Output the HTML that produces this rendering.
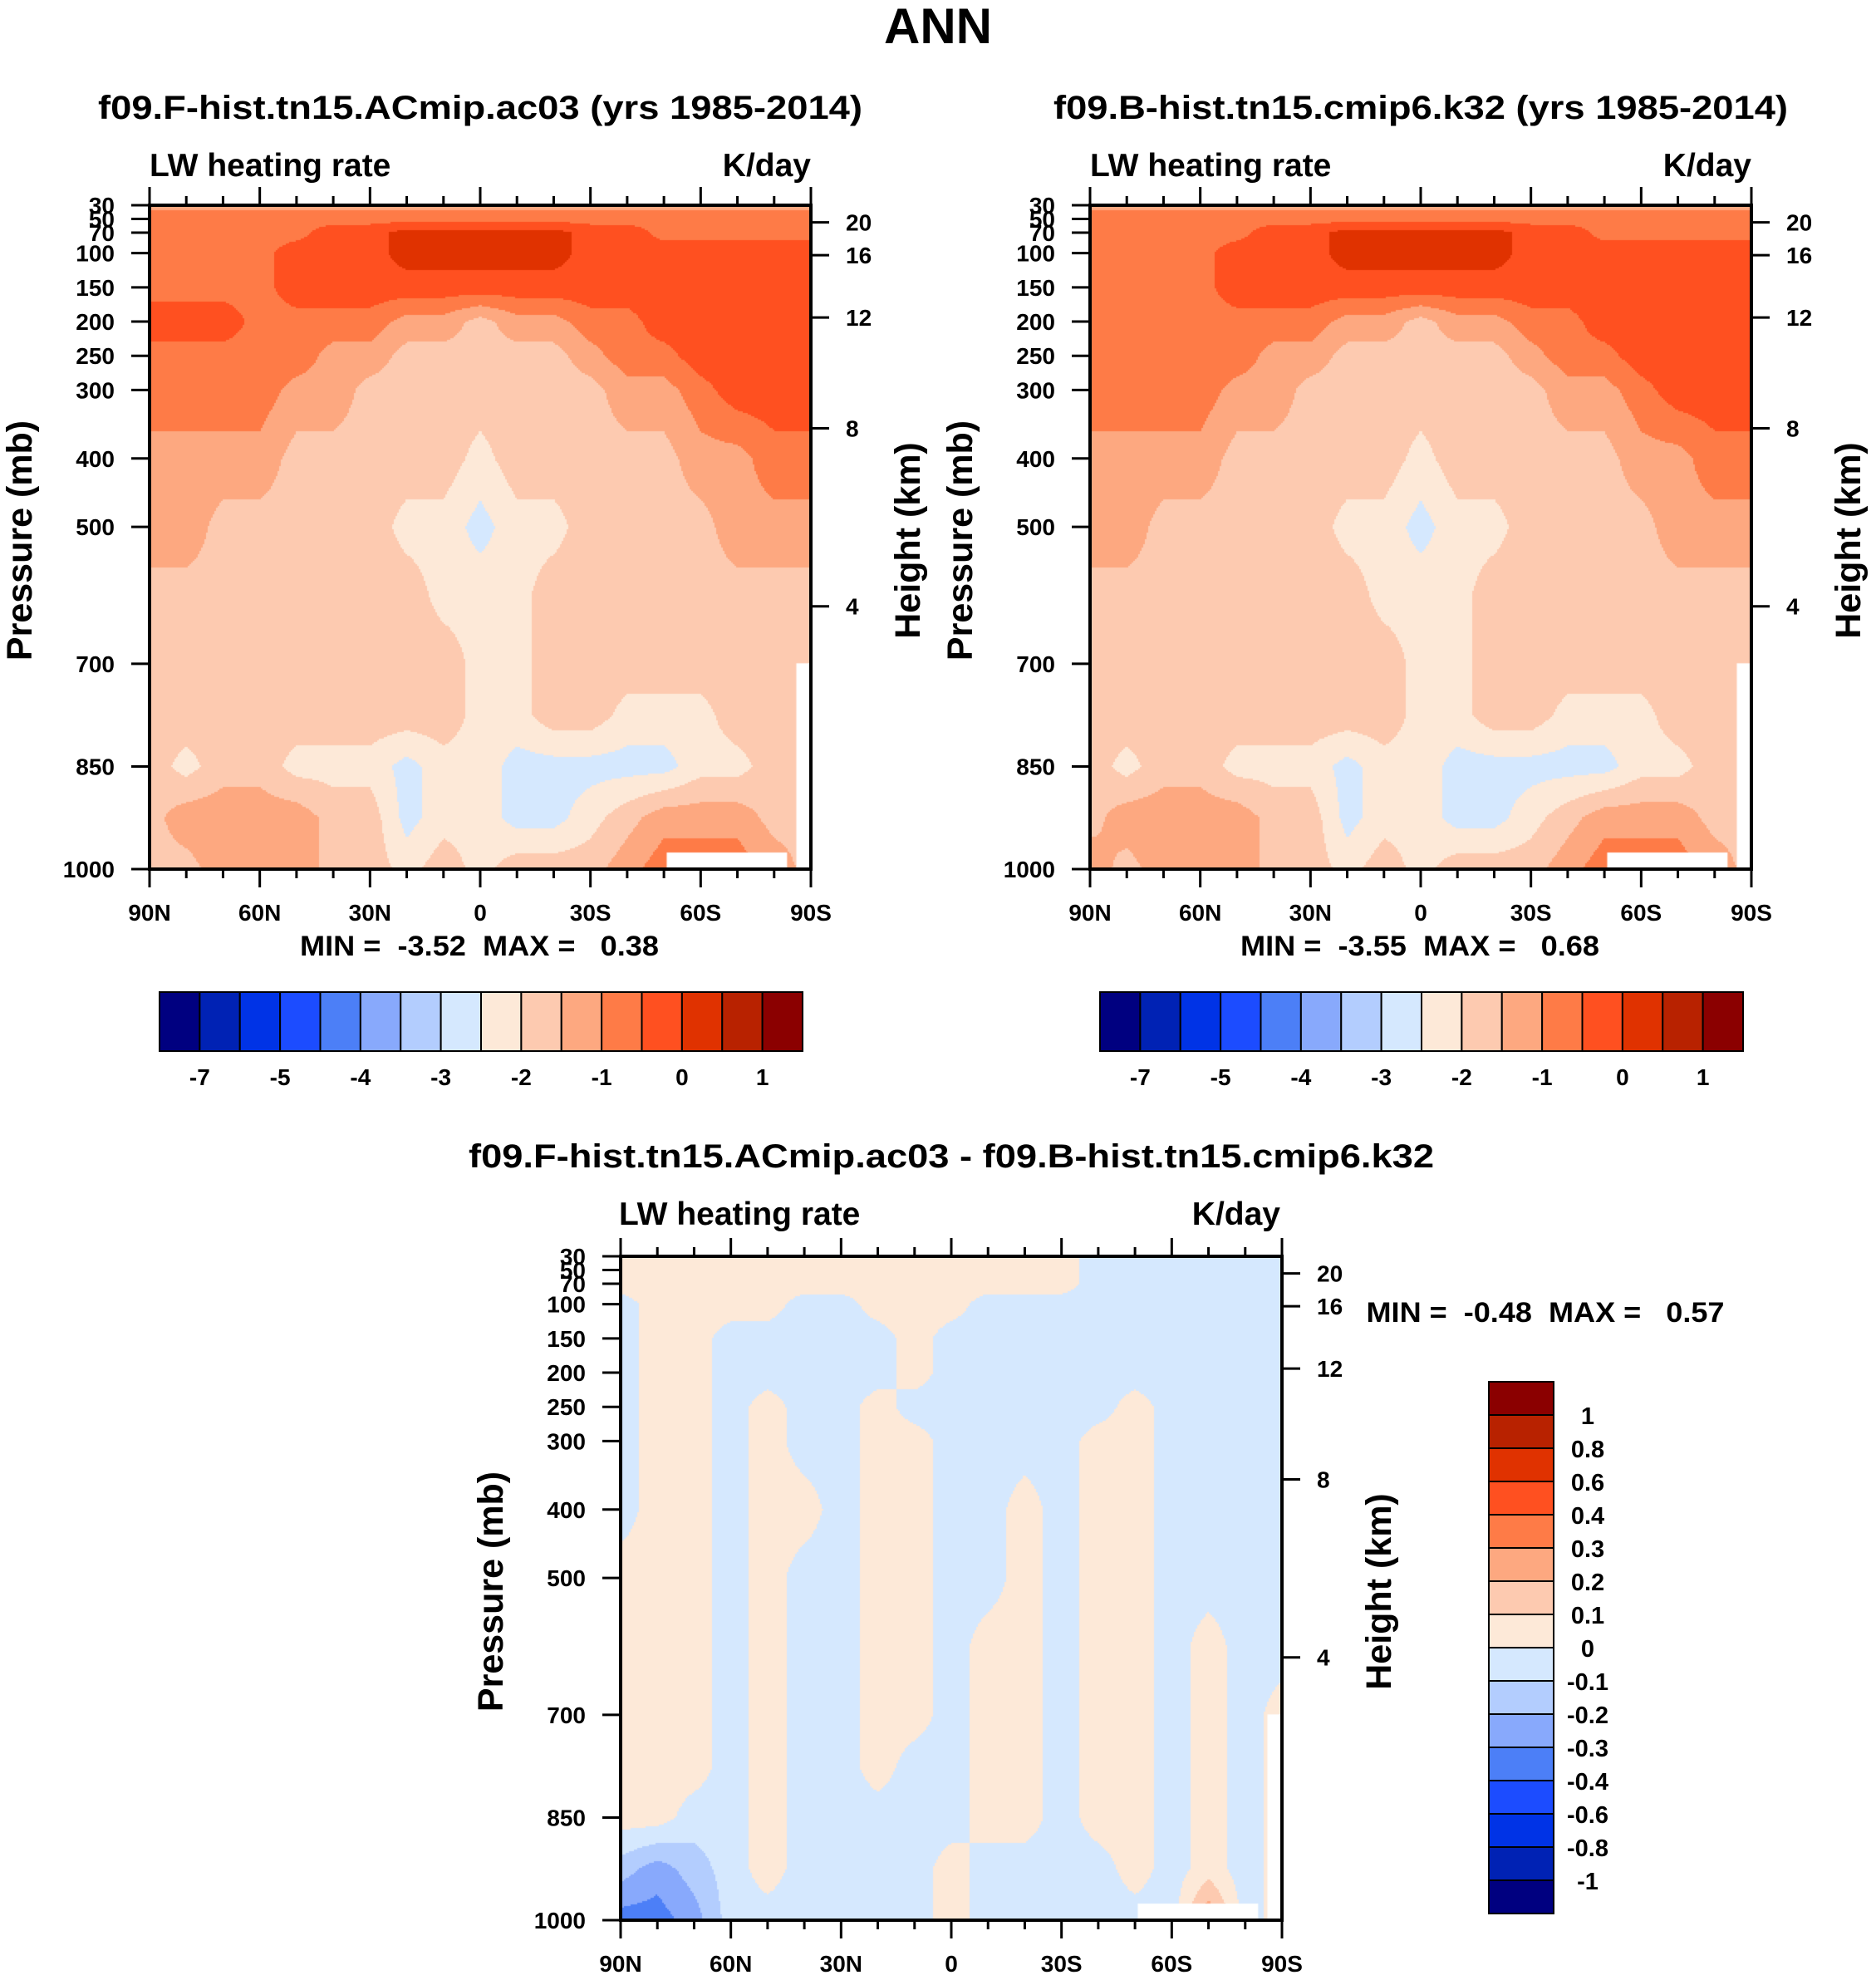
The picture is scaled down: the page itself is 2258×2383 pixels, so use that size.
<!DOCTYPE html>
<html><head><meta charset="utf-8">
<style>
html,body{margin:0;padding:0;background:#fff;}
#root{position:relative;width:2258px;height:2383px;overflow:hidden;background:#fff;font-family:"Liberation Sans",sans-serif;}
canvas{position:absolute;}
svg{position:absolute;left:0;top:0;}
svg text{font-family:"Liberation Sans",sans-serif;font-weight:bold;fill:#000;}
</style></head>
<body>
<div id="root">
<canvas id="cA"></canvas>
<canvas id="cB"></canvas>
<canvas id="cD"></canvas>
<svg id="ov" width="2258" height="2383">
<text x="1129" y="52" font-size="60" text-anchor="middle">ANN</text>
<text x="578" y="143" font-size="40" text-anchor="middle" textLength="920" lengthAdjust="spacingAndGlyphs">f09.F-hist.tn15.ACmip.ac03 (yrs 1985-2014)</text>
<text x="180" y="212" font-size="39">LW heating rate</text>
<text x="976" y="212" font-size="39" text-anchor="end">K/day</text>
<text x="1710" y="143" font-size="40" text-anchor="middle" textLength="884" lengthAdjust="spacingAndGlyphs">f09.B-hist.tn15.cmip6.k32 (yrs 1985-2014)</text>
<text x="1312" y="212" font-size="39">LW heating rate</text>
<text x="2108" y="212" font-size="39" text-anchor="end">K/day</text>
<text x="1145" y="1405" font-size="40" text-anchor="middle" textLength="1162" lengthAdjust="spacingAndGlyphs">f09.F-hist.tn15.ACmip.ac03 - f09.B-hist.tn15.cmip6.k32</text>
<text x="745" y="1474" font-size="39">LW heating rate</text>
<text x="1541" y="1474" font-size="39" text-anchor="end">K/day</text>
<text x="577" y="1150" font-size="34" text-anchor="middle" textLength="432" lengthAdjust="spacingAndGlyphs" xml:space="preserve">MIN =  -3.52  MAX =   0.38</text>
<text x="1709" y="1150" font-size="34" text-anchor="middle" textLength="432" lengthAdjust="spacingAndGlyphs" xml:space="preserve">MIN =  -3.55  MAX =   0.68</text>
<text x="1860" y="1591" font-size="34" text-anchor="middle" textLength="431" lengthAdjust="spacingAndGlyphs" xml:space="preserve">MIN =  -0.48  MAX =   0.57</text>
</svg>
</div>
<script>
// ---- data ----
const lats = [90,80,70,60,50,40,30,20,10,0,-10,-20,-30,-40,-50,-60,-70,-80,-90];
const pLevels = [30,50,70,100,150,200,250,300,400,500,600,700,775,850,925,1000];
const pTickLabels = [30,50,70,100,150,200,250,300,400,500,700,850,1000];
const heightTickLabels = [20,16,12,8,4];
const heightTickPressures = [55,103,194,356,616];
const latTickLabels = ['90N','60N','30N','0','30S','60S','90S'];
const levelsTop = [-7,-6,-5,-4.5,-4,-3.5,-3,-2.5,-2,-1.5,-1,-0.5,0,0.5,1];
const levelsTopLabels = ['-7','-5','-4','-3','-2','-1','0','1'];
const levelsDiff = [-1,-0.8,-0.6,-0.4,-0.3,-0.2,-0.1,0,0.1,0.2,0.3,0.4,0.6,0.8,1];
const levelsDiffLabels = ['-1','-0.8','-0.6','-0.4','-0.3','-0.2','-0.1','0','0.1','0.2','0.3','0.4','0.6','0.8','1'];
const palette = ['#000080','#0022b4','#0033e6','#1c4cff','#4c7ff7','#88a9fc','#b3cdfe','#d5e8fe','#fde9d8','#fdcab0','#fda880','#fe7b47','#ff5020','#e03200','#b82200','#8b0000'];

const fieldA = [
[-1.2,-1.2,-1.2,-1.2,-1.2,-1.2,-1.2,-1.2,-1.2,-1.2,-1.2,-1.2,-1.2,-1.2,-1.2,-1.2,-1.2,-1.2,-1.2],
[-0.7,-0.7,-0.7,-0.7,-0.7,-0.7,-0.7,-0.7,-0.7,-0.7,-0.7,-0.7,-0.7,-0.7,-0.7,-0.7,-0.7,-0.7,-0.7],
[-0.7,-0.7,-0.7,-0.7,-0.7,-0.2,-0.2,0.2,0.2,0.2,0.2,0.2,-0.2,-0.2,-0.7,-0.7,-0.7,-0.7,-0.7],
[-0.7,-0.7,-0.7,-0.7,-0.2,-0.2,-0.2,0.2,0.2,0.2,0.2,0.2,-0.2,-0.2,-0.2,-0.2,-0.2,-0.2,-0.2],
[-0.7,-0.7,-0.7,-0.7,-0.2,-0.2,-0.2,-0.2,-0.2,-0.2,-0.2,-0.2,-0.2,-0.2,-0.2,-0.2,-0.2,-0.2,-0.2],
[-0.2,-0.2,-0.2,-0.7,-0.7,-0.7,-0.7,-1.2,-1.2,-1.7,-1.2,-1.2,-0.7,-0.7,-0.2,-0.2,-0.2,-0.2,-0.2],
[-0.7,-0.7,-0.7,-0.7,-0.7,-1.2,-1.2,-1.7,-1.7,-1.7,-1.7,-1.7,-1.2,-0.7,-0.7,-0.2,-0.2,-0.2,-0.2],
[-0.7,-0.7,-0.7,-0.7,-1.2,-1.2,-1.7,-1.7,-1.7,-1.7,-1.7,-1.7,-1.7,-1.2,-1.2,-0.7,-0.2,-0.2,-0.2],
[-1.2,-1.2,-1.2,-1.2,-1.7,-1.7,-1.7,-1.7,-1.7,-2.2,-1.7,-1.7,-1.7,-1.7,-1.7,-1.2,-1.2,-0.7,-0.7],
[-1.2,-1.2,-1.7,-1.7,-1.7,-1.7,-1.7,-2.2,-2.2,-2.7,-2.2,-2.2,-1.7,-1.7,-1.7,-1.7,-1.2,-1.2,-1.2],
[-1.7,-1.7,-1.7,-1.7,-1.7,-1.7,-1.7,-1.7,-2.2,-2.2,-2.2,-1.7,-1.7,-1.7,-1.7,-1.7,-1.7,-1.7,-1.7],
[-1.7,-1.7,-1.7,-1.7,-1.7,-1.7,-1.7,-1.7,-1.7,-2.2,-2.2,-1.7,-1.7,-1.7,-1.7,-1.7,-1.7,-1.7,-1.7],
[-1.7,-1.7,-1.7,-1.7,-1.7,-1.7,-1.7,-1.7,-1.7,-2.2,-2.2,-1.7,-1.7,-2.2,-2.2,-2.2,-1.7,-1.7,-1.7],
[-1.7,-2.2,-1.7,-1.7,-2.2,-2.2,-2.2,-2.7,-2.2,-2.2,-2.7,-2.7,-2.7,-2.7,-2.7,-2.2,-2.2,-1.7,-1.7],
[-1.7,-1.2,-1.2,-1.2,-1.2,-1.7,-1.7,-2.7,-2.2,-2.2,-2.7,-2.7,-2.2,-1.7,-1.2,-1.2,-1.2,-1.7,-1.7],
[-1.7,-1.7,-1.2,-1.2,-1.2,-1.7,-1.7,-2.2,-1.7,-2.2,-1.7,-1.7,-1.7,-1.2,-0.7,-0.7,-0.7,-1.2,-1.7]
];
const fieldB = [
[-1.2,-1.2,-1.2,-1.2,-1.2,-1.2,-1.2,-1.2,-1.2,-1.2,-1.2,-1.2,-1.2,-1.2,-1.2,-1.2,-1.2,-1.2,-1.2],
[-0.7,-0.7,-0.7,-0.7,-0.7,-0.7,-0.7,-0.7,-0.7,-0.7,-0.7,-0.7,-0.7,-0.7,-0.7,-0.7,-0.7,-0.7,-0.7],
[-0.7,-0.7,-0.7,-0.7,-0.7,-0.2,-0.2,0.2,0.2,0.2,0.2,0.2,-0.2,-0.2,-0.7,-0.7,-0.7,-0.7,-0.7],
[-0.7,-0.7,-0.7,-0.7,-0.2,-0.2,-0.2,0.2,0.2,0.2,0.2,0.2,-0.2,-0.2,-0.2,-0.2,-0.2,-0.2,-0.2],
[-0.7,-0.7,-0.7,-0.7,-0.2,-0.2,-0.2,-0.2,-0.2,-0.2,-0.2,-0.2,-0.2,-0.2,-0.2,-0.2,-0.2,-0.2,-0.2],
[-0.7,-0.7,-0.7,-0.7,-0.7,-0.7,-0.7,-1.2,-1.2,-1.7,-1.2,-1.2,-0.7,-0.7,-0.2,-0.2,-0.2,-0.2,-0.2],
[-0.7,-0.7,-0.7,-0.7,-0.7,-1.2,-1.2,-1.7,-1.7,-1.7,-1.7,-1.7,-1.2,-0.7,-0.7,-0.2,-0.2,-0.2,-0.2],
[-0.7,-0.7,-0.7,-0.7,-1.2,-1.2,-1.7,-1.7,-1.7,-1.7,-1.7,-1.7,-1.7,-1.2,-1.2,-0.7,-0.2,-0.2,-0.2],
[-1.2,-1.2,-1.2,-1.2,-1.7,-1.7,-1.7,-1.7,-1.7,-2.2,-1.7,-1.7,-1.7,-1.7,-1.7,-1.2,-1.2,-0.7,-0.7],
[-1.2,-1.2,-1.7,-1.7,-1.7,-1.7,-1.7,-2.2,-2.2,-2.7,-2.2,-2.2,-1.7,-1.7,-1.7,-1.7,-1.2,-1.2,-1.2],
[-1.7,-1.7,-1.7,-1.7,-1.7,-1.7,-1.7,-1.7,-2.2,-2.2,-2.2,-1.7,-1.7,-1.7,-1.7,-1.7,-1.7,-1.7,-1.7],
[-1.7,-1.7,-1.7,-1.7,-1.7,-1.7,-1.7,-1.7,-1.7,-2.2,-2.2,-1.7,-1.7,-1.7,-1.7,-1.7,-1.7,-1.7,-1.7],
[-1.7,-1.7,-1.7,-1.7,-1.7,-1.7,-1.7,-1.7,-1.7,-2.2,-2.2,-1.7,-1.7,-2.2,-2.2,-2.2,-1.7,-1.7,-1.7],
[-1.7,-2.2,-1.7,-1.7,-2.2,-2.2,-2.2,-2.7,-2.2,-2.2,-2.7,-2.7,-2.7,-2.7,-2.7,-2.2,-2.2,-1.7,-1.7],
[-1.7,-1.2,-1.2,-1.2,-1.2,-1.7,-1.7,-2.7,-2.2,-2.2,-2.7,-2.7,-2.2,-1.7,-1.2,-1.2,-1.2,-1.7,-1.7],
[-1.2,-1.7,-1.2,-1.2,-1.2,-1.7,-1.7,-2.2,-1.7,-2.2,-1.7,-1.7,-1.7,-1.2,-0.7,-0.7,-0.7,-1.2,-1.7]
];
const fieldDiff = [
[0.05,0.05,0.05,0.05,0.05,0.05,0.05,0.05,0.05,0.05,0.05,0.05,0.05,-0.05,-0.05,-0.05,-0.05,-0.05,-0.05],
[0.05,0.05,0.05,0.05,0.05,0.05,0.05,0.05,0.05,0.05,0.05,0.05,0.05,-0.05,-0.05,-0.05,-0.05,-0.05,-0.05],
[0.05,0.05,0.05,0.05,0.05,0.05,0.05,0.05,0.05,0.05,0.05,0.05,0.05,-0.05,-0.05,-0.05,-0.05,-0.05,-0.05],
[-0.05,0.05,0.05,0.05,0.05,-0.05,-0.05,0.05,0.05,0.05,-0.05,-0.05,-0.05,-0.05,-0.05,-0.05,-0.05,-0.05,-0.05],
[-0.05,0.05,0.05,-0.05,-0.05,-0.05,-0.05,-0.05,0.05,-0.05,-0.05,-0.05,-0.05,-0.05,-0.05,-0.05,-0.05,-0.05,-0.05],
[-0.05,0.05,0.05,-0.05,-0.05,-0.05,-0.05,-0.05,0.05,-0.05,-0.05,-0.05,-0.05,-0.05,-0.05,-0.05,-0.05,-0.05,-0.05],
[-0.05,0.05,0.05,-0.05,0.05,-0.05,-0.05,0.05,-0.05,-0.05,-0.05,-0.05,-0.05,-0.05,0.05,-0.05,-0.05,-0.05,-0.05],
[-0.05,0.05,0.05,-0.05,0.05,-0.05,-0.05,0.05,0.05,-0.05,-0.05,-0.05,-0.05,0.05,0.05,-0.05,-0.05,-0.05,-0.05],
[-0.05,0.05,0.05,-0.05,0.05,0.05,-0.05,0.05,0.05,-0.05,-0.05,0.05,-0.05,0.05,0.05,-0.05,-0.05,-0.05,-0.05],
[0.05,0.05,0.05,-0.05,0.05,-0.05,-0.05,0.05,0.05,-0.05,-0.05,0.05,-0.05,0.05,0.05,-0.05,-0.05,-0.05,-0.05],
[0.05,0.05,0.05,-0.05,0.05,-0.05,-0.05,0.05,0.05,-0.05,0.05,0.05,-0.05,0.05,0.05,-0.05,0.05,-0.05,-0.05],
[0.05,0.05,0.05,-0.05,0.05,-0.05,-0.05,0.05,0.05,-0.05,0.05,0.05,-0.05,0.05,0.05,-0.05,0.05,-0.05,0.05],
[0.05,0.05,0.05,-0.05,0.05,-0.05,-0.05,0.05,-0.05,-0.05,0.05,0.05,-0.05,0.05,0.05,-0.05,0.05,-0.05,0.05],
[0.05,0.05,-0.05,-0.05,0.05,-0.05,-0.05,-0.05,-0.05,-0.05,0.05,0.05,-0.05,0.05,0.05,-0.05,0.05,-0.05,0.05],
[-0.15,-0.25,-0.15,-0.05,0.05,-0.05,-0.05,-0.05,-0.05,0.05,-0.05,-0.05,-0.05,-0.05,0.05,-0.05,0.05,-0.05,0.05],
[-0.35,-0.35,-0.25,-0.05,-0.05,-0.05,-0.05,-0.05,-0.05,0.05,-0.05,-0.05,-0.05,-0.05,-0.05,-0.05,0.3,-0.05,0.05]
];

// ---- layout ----
const panels = [
  {id:'cA', name:'panel1', x:180, y:247, w:796, h:799, field:fieldA, levels:levelsTop},
  {id:'cB', name:'panel2', x:1312, y:247, w:796, h:799, field:fieldB, levels:levelsTop},
  {id:'cD', name:'panel3', x:747, y:1512, w:796, h:799, field:fieldDiff, levels:levelsDiff}
];
const NS = 'http://www.w3.org/2000/svg';
const ov = document.getElementById('ov');
function mk(tag, attrs, parent){
  const e = document.createElementNS(NS, tag);
  for (const k in attrs) e.setAttribute(k, attrs[k]);
  (parent||ov).appendChild(e);
  return e;
}
function classOf(v, levels){ let c=0; for (const l of levels) if (v>=l) c++; return c; }
function sample(field, lat, p){
  let i=0; while (i<pLevels.length-2 && p>pLevels[i+1]) i++;
  const t = Math.max(0,Math.min(1,(p-pLevels[i])/(pLevels[i+1]-pLevels[i])));
  const fx = (90-lat)/10; let j=Math.min(Math.floor(fx), lats.length-2); const s=fx-j;
  const a=field[i][j], b=field[i][j+1], c=field[i+1][j], d=field[i+1][j+1];
  return (a*(1-s)+b*s)*(1-t)+(c*(1-s)+d*s)*t;
}
function xScale(P, lat){ return P.x + (90-lat)/180*P.w; }
function yScale(P, p){ return P.y + (p-30)/970*P.h; }

panels.forEach(P=>{
  const cv = document.getElementById(P.id);
  cv.width=P.w; cv.height=P.h; cv.style.left=P.x+'px'; cv.style.top=P.y+'px';
  const ctx = cv.getContext('2d');
  const st=2;
  for (let py=0; py<P.h; py+=st){
    const p = 30 + (py+st/2)/P.h*970;
    for (let px=0; px<P.w; px+=st){
      const lat = 90 - (px+st/2)/P.w*180;
      const v = sample(P.field, lat, p);
      ctx.fillStyle = palette[classOf(v, P.levels)];
      ctx.fillRect(px,py,st,st);
    }
  }
  ctx.fillStyle='#fff';
  ctx.fillRect(P.w*0.782, P.h*0.975, P.w*0.182, P.h*0.03);
  ctx.fillRect(P.w*0.978, P.h*0.69, P.w*0.03, P.h*0.32);

  const g = mk('g',{});
  
  
  const fr = mk('rect',{x:P.x,y:P.y,width:P.w,height:P.h,fill:'none',stroke:'#000','stroke-width':4},g);
  
  
  pTickLabels.forEach(pv=>{
    const y = yScale(P,pv);
    const t = mk('line',{x1:P.x-22,x2:P.x,y1:y,y2:y,stroke:'#000','stroke-width':3},g);
    
    
    const tx = mk('text',{x:P.x-42,y:y+10,'font-size':28,'text-anchor':'end'},g);
    tx.textContent = pv;
    
    
  });
  heightTickLabels.forEach((hv,k)=>{
    const y = yScale(P, heightTickPressures[k]);
    const t = mk('line',{x1:P.x+P.w,x2:P.x+P.w+22,y1:y,y2:y,stroke:'#000','stroke-width':3},g);
    
    
    const tx = mk('text',{x:P.x+P.w+42,y:y+10,'font-size':28},g);
    tx.textContent = hv;
    
    
  });
  for (let lat=90; lat>=-90; lat-=10){
    const x = xScale(P,lat);
    const major = (lat%30===0);
    const L = major?22:11;
    const tb = mk('line',{x1:x,x2:x,y1:P.y+P.h,y2:P.y+P.h+L,stroke:'#000','stroke-width':3},g);
    
    
    const tt = mk('line',{x1:x,x2:x,y1:P.y-L,y2:P.y,stroke:'#000','stroke-width':3},g);
    
    
  }
  latTickLabels.forEach((lab,k)=>{
    const x = xScale(P, 90-30*k);
    const tx = mk('text',{x:x,y:P.y+P.h+62,'font-size':28,'text-anchor':'middle'},g);
    tx.textContent = lab;
    
    
  });
  const cy = P.y+P.h/2+4;
  const yt = mk('text',{x:0,y:0,'font-size':43,'text-anchor':'middle',transform:`translate(${P.x-142},${cy}) rotate(-90)`},g);
  yt.textContent='Pressure (mb)';
  
  
  const ht = mk('text',{x:0,y:0,'font-size':43,'text-anchor':'middle',transform:`translate(${P.x+P.w+131},${cy}) rotate(-90)`},g);
  ht.textContent='Height (km)';
  
  
});

[{x:192,name:'panel1'},{x:1324,name:'panel2'}].forEach(cb=>{
  const g = mk('g',{});
  
  
  const W=774, y0=1194, H=71, bw=W/palette.length;
  palette.forEach((c,k)=>{
    const r = mk('rect',{x:cb.x+k*bw,y:y0,width:bw,height:H,fill:c,stroke:'#000','stroke-width':2},g);
    
    
  });
  levelsTopLabels.forEach((lab,k)=>{
    const tx = mk('text',{x:cb.x+(1+2*k)*bw,y:1306,'font-size':28,'text-anchor':'middle'},g);
    tx.textContent = lab;
    
    
  });
});
(function(){
  const g = mk('g',{});
  
  
  const x0=1792, y0=1663, W=78, bh=40, n=palette.length;
  palette.forEach((c,k)=>{
    const r = mk('rect',{x:x0,y:y0+(n-1-k)*bh,width:W,height:bh,fill:c,stroke:'#000','stroke-width':2},g);
    
    
  });
  levelsDiffLabels.forEach((lab,k)=>{
    const y = y0 + (n-1-k)*bh;
    const tx = mk('text',{x:1911,y:y+11,'font-size':29,'text-anchor':'middle'},g);
    tx.textContent = lab;
    
    
  });
})();
</script>
</body></html>
